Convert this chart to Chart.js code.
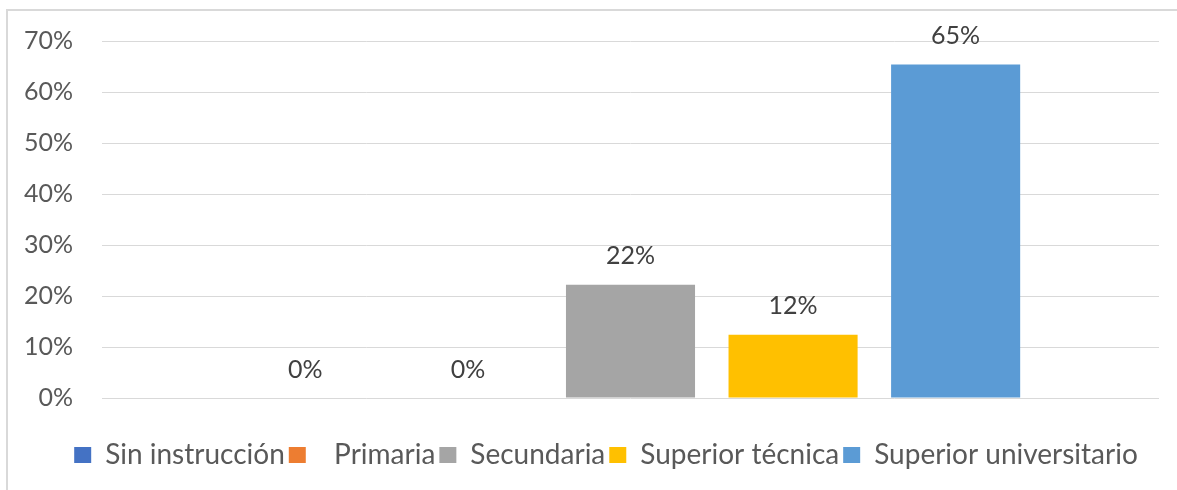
<!DOCTYPE html>
<html>
<head>
<meta charset="utf-8">
<script src="https://cdn.jsdelivr.net/npm/chart.js@4.4.1/dist/chart.umd.min.js"></script>
<style>
  html, body { margin: 0; padding: 0; background: #fff; }
  #frame { position: absolute; left: 6px; top: 9px; width: 1200px; height: 520px; border: 2px solid #d9d9d9; box-sizing: border-box; }
  #wrap { position: absolute; left: 0; top: 0; width: 1177px; height: 490px; }
</style>
</head>
<body>
<div id="frame"></div>
<div id="wrap"><canvas id="c" width="1177" height="490"></canvas></div>
<script>
const categories = [""];
const seriesNames = ["Sin instrucción", "  Primaria", "Secundaria", "Superior técnica", "Superior universitario"];
const seriesValues = [0, 0, 22.2, 12.4, 65.4];
const seriesColors = ["#4472C4", "#ED7D31", "#A5A5A5", "#FFC000", "#5B9BD5"];
const yTicks = [0, 10, 20, 30, 40, 50, 60, 70];

const FONT = "Lato";

const labelPlugin = {
  id: 'barLabels',
  afterDatasetsDraw(chart) {
    const ctx = chart.ctx;
    ctx.save();
    ctx.font = "25px " + FONT;
    ctx.fillStyle = "#404040";
    ctx.textAlign = "center";
    ctx.textBaseline = "bottom";
    chart.data.datasets.forEach((ds, i) => {
      const meta = chart.getDatasetMeta(i);
      meta.data.forEach((el, j) => {
        const v = ds.data[j];
        ctx.fillText(Math.round(v) + "%", el.x, el.y - 16);
      });
    });
    ctx.restore();
  }
};

const legendShift = {
  id: 'legendShift',
  beforeDraw(chart) {
    if (chart.legend) { chart.legend.left = 53; }
  }
};

new Chart(document.getElementById('c'), {
  type: 'bar',
  data: {
    labels: categories,
    datasets: seriesNames.map((n, i) => ({
      label: n,
      data: [seriesValues[i]],
      backgroundColor: seriesColors[i],
      borderWidth: 0
    }))
  },
  options: {
    responsive: false,
    animation: false,
    devicePixelRatio: 1,
    categoryPercentage: 0.769,
    barPercentage: 0.794,
    layout: { padding: { left: 0, right: 18, top: 20, bottom: 11 } },
    plugins: {
      tooltip: { enabled: false },
      legend: {
        position: 'bottom',
        labels: {
          font: { family: FONT, size: 28 },
          color: "#595959",
          boxWidth: 17,
          boxHeight: 16,
          padding: 4
        }
      }
    },
    scales: {
      x: {
        grid: { display: false },
        border: { display: false },
        ticks: { display: false },
        afterFit(s) { s.height = 39; }
      },
      y: {
        min: 0,
        max: 70,
        afterBuildTicks(s) { s.ticks = yTicks.map(v => ({ value: v })); },
        afterFit(s) { s.width = 102; },
        grid: { color: "#d9d9d9", lineWidth: 1, drawTicks: false },
        border: { display: false },
        ticks: {
          padding: 29,
          color: "#595959",
          font: { family: FONT, size: 25, lineHeight: 0.96 },
          callback: v => v + "%"
        }
      }
    }
  },
  plugins: [labelPlugin, legendShift]
});
</script>
</body>
</html>
